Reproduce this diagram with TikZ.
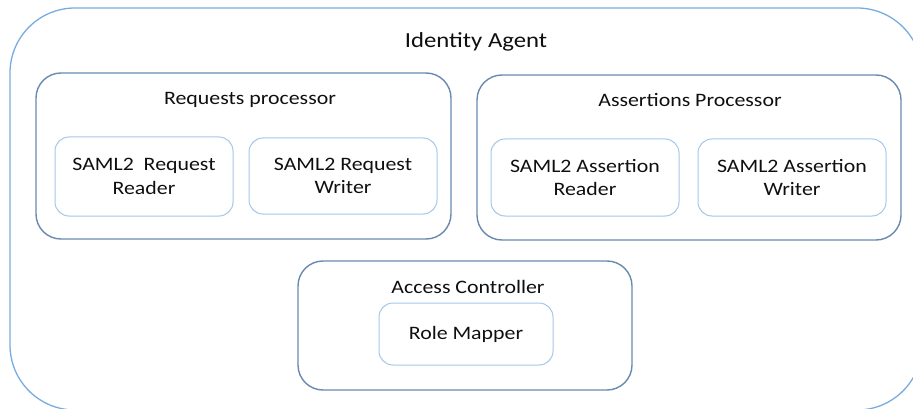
\documentclass[tikz,border=0pt]{standalone}
\usepackage{fontspec}
\setmainfont{Carlito}[FakeStretch=1.15]
\definecolor{outerline}{RGB}{120,172,224}
\definecolor{groupline}{RGB}{104,138,176}
\definecolor{partline}{RGB}{164,198,232}
\definecolor{labeltext}{RGB}{15,15,15}
\begin{document}
\begin{tikzpicture}[x=1pt,y=-1pt,
  agentbox/.style={draw=outerline,line width=1.3pt,rounded corners=65pt,inner sep=0pt},
  groupbox/.style={draw=groupline,line width=1.4pt,rounded corners=25pt,inner sep=0pt},
  partbox/.style={draw=partline,line width=1pt,rounded corners=14pt,inner sep=0pt,
    align=center,font=\fontsize{19}{23.5}\selectfont,text=labeltext},
  grouplabel/.style={inner sep=0pt,font=\fontsize{19}{23}\selectfont,text=labeltext},
  agentlabel/.style={inner sep=0pt,font=\fontsize{21.5}{26}\selectfont,text=labeltext}]
\useasboundingbox (0,0) rectangle (913,409);
\clip (0,0) rectangle (913,409);

% outer container, running past the right and bottom edges
\node[agentbox,minimum width=912pt,minimum height=402pt] (agent) at (466,209) {};
\node[agentlabel] (agentlbl) at (476,42) {Identity Agent};

% requests processor group
\node[groupbox,minimum width=415pt,minimum height=166pt] (req) at (243.5,156) {};
\node[grouplabel] (reqlbl) at (250,100) {Requests processor};
\node[partbox,minimum width=178pt,minimum height=79pt] (reqreader) at (144,176.5)
  {SAML2\ \ Request\\Reader};
\node[partbox,minimum width=188pt,minimum height=76pt] (reqwriter) at (343,176)
  {SAML2 Request\\Writer};

% assertions processor group
\node[groupbox,minimum width=424pt,minimum height=165pt] (asr) at (689,157.5) {};
\node[grouplabel] (asrlbl) at (690,100) {Assertions Processor};
\node[partbox,minimum width=188pt,minimum height=77pt] (asrreader) at (585,177.5)
  {SAML2 Assertion\\Reader};
\node[partbox,minimum width=188pt,minimum height=77pt] (asrwriter) at (792,177.5)
  {SAML2 Assertion\\Writer};

% access controller group
\node[groupbox,minimum width=334pt,minimum height=129pt] (acc) at (465,325.5) {};
\node[grouplabel] (acclbl) at (468,287) {Access Controller};
\node[partbox,minimum width=174pt,minimum height=62pt] (role) at (466,334)
  {Role Mapper};
\end{tikzpicture}
\end{document}
